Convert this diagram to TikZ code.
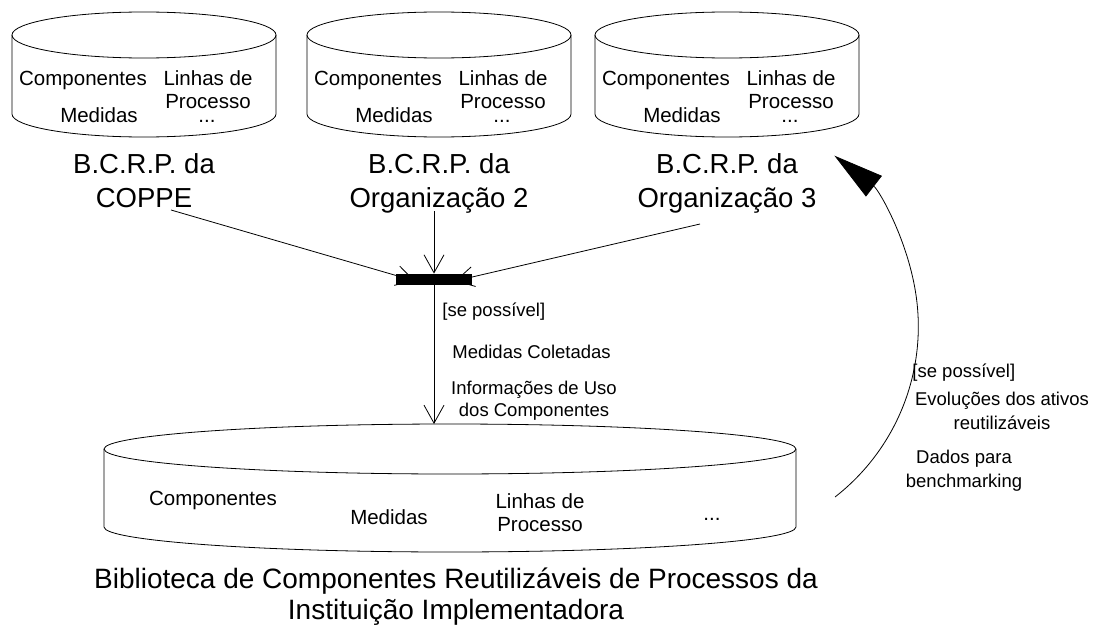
\documentclass[tikz,border=0pt]{standalone}
\usepackage{fontspec}
\setmainfont{Liberation Sans}
\usetikzlibrary{arrows.meta,calc}
\newcommand{\drawDbCyl}[5]{%
  \draw (#1,#2) ellipse[x radius=#4, y radius=#5];
  \draw (#1-#4,#2) -- (#1-#4,#3) arc[start angle=180, end angle=0, x radius=#4, y radius=#5] -- (#1+#4,#2);
}
\begin{document}
\begin{tikzpicture}[x=1pt,y=-1pt,line width=0.8pt,
  small/.style={font=\fontsize{20.5}{23}\selectfont, inner sep=0pt, align=center},
  big/.style={font=\fontsize{27.5}{34}\selectfont, inner sep=0pt, align=center},
  note/.style={font=\fontsize{18.5}{22}\selectfont, inner sep=0pt, align=center},
  openarrow/.style={-{Straight Barb[length=18pt,width=20pt]}},
  bigarrow/.style={-{Triangle[length=50pt,width=26pt]}},
  barstyle/.style={fill=black, draw=none, minimum width=76pt, minimum height=11pt, inner sep=0pt},
  area/.style={inner sep=0pt, draw=none},
]
\useasboundingbox (0,0) rectangle (1119,626);

% top repositories
\foreach \cx/\n/\t in {144/1/COPPE, 439/2/Organização 2, 727/3/Organização 3}{
  \drawDbCyl{\cx}{35}{114}{132}{23}
  \node[area, minimum width=264pt, minimum height=126pt] (cyl\n) at (\cx,75) {};
  \node[small] (comp\n) at (\cx-61,80) {Componentes};
  \node[small, anchor=north] (lin\n) at (\cx+64,70) {Linhas de\\Processo};
  \node[small] (med\n) at (\cx-45,115) {Medidas};
  \node[small] (dots\n) at (\cx+63,121) {...};
  \node[big, anchor=north] (lab\n) at (\cx,153) {B.C.R.P. da\\\t};
}

% bottom library
\drawDbCyl{450}{449}{527}{346}{25}
\node[area, minimum width=692pt, minimum height=130pt] (lib) at (450,488) {};
\node[small] (bcomp) at (213,500) {Componentes};
\node[small] (bmed) at (389,517) {Medidas};
\node[small, anchor=north] (blin) at (540,493) {Linhas de\\Processo};
\node[small] (bdots) at (712,519) {...};
\node[big, anchor=north, font=\fontsize{28}{31}\selectfont] (blab) at (456,567)
  {Biblioteca de Componentes Reutilizáveis de Processos da\\Instituição Implementadora};

% middle notes
\node[note, anchor=west] (n1) at (442,312) {[se possível]};
\node[note, anchor=west] (n2) at (452,352) {Medidas Coletadas};
\node[note, anchor=north] (n3) at (534,381) {Informações de Uso\\dos Componentes};

% right notes
\node[note, anchor=west] (r1) at (912,373) {[se possível]};
\node[note, anchor=north, font=\fontsize{18.5}{24}\selectfont] (r2) at (1002,392) {Evoluções dos ativos\\reutilizáveis};
\node[note, anchor=north, font=\fontsize{18.5}{24}\selectfont] (r3) at (964,450) {Dados para\\benchmarking};

% join bar and connectors
\node[barstyle] (bar) at (434,279.5) {};
\coordinate (s1) at (171,210);
\coordinate (s2) at (434,211);
\coordinate (s3) at (700,224);
\coordinate (bt) at (434,424);
\draw[openarrow] (s1) -- ($(bar.center)+(-19,1.5)$);
\draw[openarrow] (s3) -- ($(bar.center)+(21,1.5)$);
\draw[openarrow] (s2) -- (bar.north);
\fill (bar.north west) rectangle (bar.south east);
\draw[openarrow] (bar.south) -- (bt);

% feedback arc
\coordinate (cs) at (835,497);
\draw[bigarrow] (cs) arc[start angle=52.1, end angle=-52.3, radius=216];
\end{tikzpicture}
\end{document}
